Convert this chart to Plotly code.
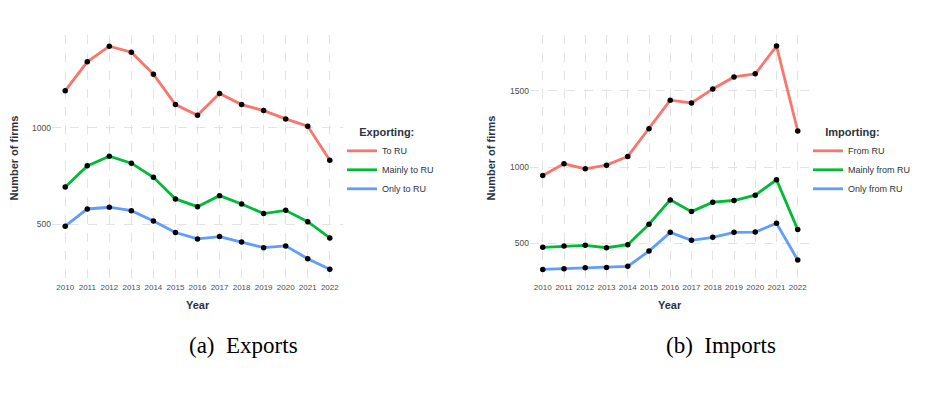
import plotly.graph_objects as go

years = list(range(2010, 2023))

# Exports panel
exp_to_ru = [1191, 1340, 1421, 1390, 1276, 1119, 1064, 1176, 1119, 1088, 1045, 1007, 831]
exp_mainly_to_ru = [693, 802, 852, 816, 743, 631, 591, 648, 605, 555, 572, 513, 429]
exp_only_to_ru = [490, 579, 588, 570, 517, 457, 424, 436, 408, 379, 388, 322, 267]

# Imports panel
imp_from_ru = [945, 1022, 989, 1013, 1070, 1252, 1439, 1421, 1513, 1592, 1612, 1794, 1237]
imp_mainly_from_ru = [474, 482, 487, 471, 491, 625, 785, 708, 770, 781, 816, 917, 590]
imp_only_from_ru = [329, 333, 340, 342, 349, 449, 572, 520, 539, 572, 574, 632, 390]

exp_names = ["To RU", "Mainly to RU", "Only to RU"]
imp_names = ["From RU", "Mainly from RU", "Only from RU"]
colors = ["#F8766D", "#00BA38", "#619CFF"]

W, H = 931, 394
FONT = "Liberation Sans, Arial, sans-serif"
SERIF = "Liberation Serif, DejaVu Serif, serif"
TXT = "#2B3340"
TICK = "#4D4D4D"
GRID = "#E3E3E3"

fig = go.Figure()

def add_panel(series, names, xa, ya, legend):
    for vals, name, col in zip(series, names, colors):
        fig.add_trace(go.Scatter(x=years, y=vals, name=name, mode="lines",
                                 line=dict(color=col, width=2.8),
                                 xaxis=xa, yaxis=ya, legend=legend))
    for vals, name, col in zip(series, names, colors):
        fig.add_trace(go.Scatter(x=years, y=vals, name=name, mode="markers",
                                 marker=dict(color="black", size=5.5),
                                 xaxis=xa, yaxis=ya, showlegend=False))

add_panel([exp_to_ru, exp_mainly_to_ru, exp_only_to_ru], exp_names, "x", "y", "legend")
add_panel([imp_from_ru, imp_mainly_from_ru, imp_only_from_ru], imp_names, "x2", "y2", "legend2")

def px_x(p):
    return p / W

def px_y(p):
    return 1 - p / H

xcommon = dict(tickvals=years, ticktext=[str(y) for y in years],
               range=[2009.4, 2022.6], showgrid=True, gridcolor=GRID,
               griddash="dash", gridwidth=1, zeroline=False, showline=False,
               ticks="", automargin=False,
               tickfont=dict(family=FONT, size=8, color=TICK))
ycommon = dict(showgrid=True, gridcolor=GRID, griddash="dash", gridwidth=1,
               zeroline=False, showline=False, ticks="", automargin=False,
               tickfont=dict(family=FONT, size=8.5, color=TICK))

legcommon = dict(xanchor="left", yanchor="top", itemwidth=30,
                 font=dict(family=FONT, size=9, color=TXT),
                 bgcolor="rgba(0,0,0,0)", tracegroupgap=0)

PAD = "\u00a0" * 5

fig.update_layout(
    width=W, height=H,
    margin=dict(l=0, r=0, t=0, b=0, autoexpand=False),
    paper_bgcolor="white", plot_bgcolor="white",
    xaxis=dict(domain=[px_x(52), px_x(343)], anchor="y", **xcommon),
    yaxis=dict(domain=[px_y(280.5), px_y(35)], anchor="x",
               range=[209, 1479], tickvals=[500, 1000], **ycommon),
    xaxis2=dict(domain=[px_x(530), px_x(810.5)], anchor="y2", **xcommon),
    yaxis2=dict(domain=[px_y(280.5), px_y(35)], anchor="x2",
                range=[256, 1867], tickvals=[500, 1000, 1500], **ycommon),
    legend=dict(x=px_x(342), y=px_y(122),
                title=dict(text=PAD + "<b>Exporting:</b>", font=dict(family=FONT, size=11, color=TXT)),
                **legcommon),
    legend2=dict(x=px_x(808), y=px_y(122),
                 title=dict(text=PAD + "<b>Importing:</b>", font=dict(family=FONT, size=11, color=TXT)),
                 **legcommon),
)

def ann(text, x, y, size, family=FONT, color=TXT, angle=0):
    return dict(text=text, x=px_x(x), y=px_y(y), xref="paper", yref="paper",
                xanchor="center", yanchor="middle", showarrow=False, textangle=angle,
                font=dict(family=family, size=size, color=color))

annotations = [
    ann("<b>Year</b>", 197.5, 304.5, 11),
    ann("<b>Year</b>", 670, 304.5, 11),
    ann("<b>Number of firms</b>", 13.5, 158, 11, angle=-90),
    ann("<b>Number of firms</b>", 490.5, 158, 11, angle=-90),
    ann("(a)\u00a0\u00a0Exports", 243.5, 345, 23, family=SERIF, color="black"),
    ann("(b)\u00a0\u00a0Imports", 720.5, 345, 23, family=SERIF, color="black"),
]
fig.update_layout(annotations=annotations)

fig.write_html("out.html",
               config={"displayModeBar": False},
               post_script="document.body.style.margin='0px';document.body.style.padding='0px';")
